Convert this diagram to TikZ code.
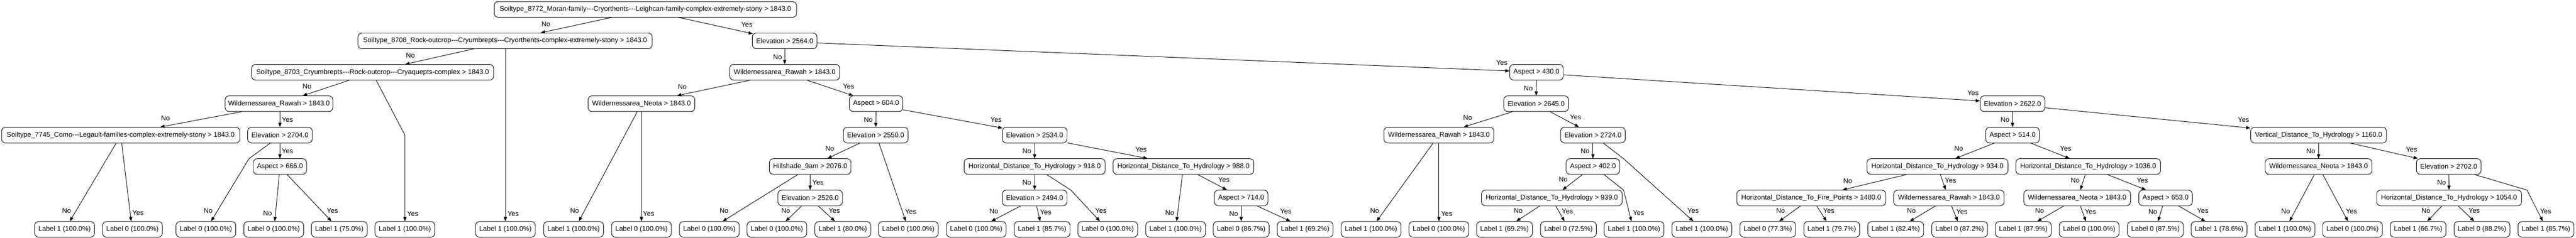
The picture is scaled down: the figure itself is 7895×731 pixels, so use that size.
\documentclass[tikz,border=0pt]{standalone}
\usepackage{fontspec}
\setmainfont{Liberation Sans}
\usetikzlibrary{arrows.meta,calc}
\begin{document}
\begin{tikzpicture}[x=0.01cm,y=-0.01cm,
  every node/.style={font=\fontsize{5.98pt}{7pt}\selectfont},
  box/.style={draw, rounded corners=0.12cm, minimum height=0.48cm, inner xsep=0.06cm, inner ysep=0pt, line width=0.43pt},
  lw/.style={box, minimum width=1.83cm},
  ln/.style={box, minimum width=1.71cm},
  conn/.style={-{Triangle[length=0.13cm,width=0.1cm]}, line width=0.43pt},
  lab/.style={inner sep=0pt}]
\useasboundingbox (0,0) rectangle (7895,731);
% row 0
\node[box,minimum width=9.26cm] (root) at (1978,29) {Soiltype\_8772\_Moran-family-{}-{}-Cryorthents-{}-{}-Leighcan-family-complex-extremely-stony > 1843.0};
% row 1
\node[box,minimum width=9.01cm] (n8708) at (1548,125.5) {Soiltype\_8708\_Rock-outcrop-{}-{}-Cryumbrepts-{}-{}-Cryorthents-complex-extremely-stony > 1843.0};
\node[box,minimum width=1.98cm] (e2564) at (2405,125.5) {Elevation > 2564.0};
% row 2
\node[box,minimum width=7.41cm] (n8703) at (1142,222) {Soiltype\_8703\_Cryumbrepts-{}-{}-Rock-outcrop-{}-{}-Cryaquepts-complex > 1843.0};
\node[box,minimum width=3.37cm] (wr2) at (2405,222) {Wildernessarea\_Rawah > 1843.0};
\node[box,minimum width=1.64cm] (a430) at (4709,222) {Aspect > 430.0};
% row 3
\node[box,minimum width=3.30cm] (wr1) at (855,318.5) {Wildernessarea\_Rawah > 1843.0};
\node[box,minimum width=3.27cm] (wn1) at (1966,318.5) {Wildernessarea\_Neota > 1843.0};
\node[box,minimum width=1.64cm] (a604) at (2685,318.5) {Aspect > 604.0};
\node[box,minimum width=1.98cm] (e2645) at (4708,318.5) {Elevation > 2645.0};
\node[box,minimum width=1.98cm] (e2622) at (6168,318.5) {Elevation > 2622.0};
% row 4
\node[box,minimum width=7.30cm] (n7745) at (370,415) {Soiltype\_7745\_Como-{}-{}-Legault-families-complex-extremely-stony > 1843.0};
\node[box,minimum width=1.98cm] (e2704) at (858,415) {Elevation > 2704.0};
\node[box,minimum width=1.98cm] (e2550) at (2684,415) {Elevation > 2550.0};
\node[box,minimum width=1.98cm] (e2534) at (3171,415) {Elevation > 2534.0};
\node[box,minimum width=3.37cm] (wr3) at (4410,415) {Wildernessarea\_Rawah > 1843.0};
\node[box,minimum width=1.98cm] (e2724) at (4882,415) {Elevation > 2724.0};
\node[box,minimum width=1.64cm] (a514) at (6168,415) {Aspect > 514.0};
\node[box,minimum width=4.16cm] (vdth) at (7106,415) {Vertical\_Distance\_To\_Hydrology > 1160.0};
% row 5
\node[box,minimum width=1.63cm] (a666) at (858,511.5) {Aspect > 666.0};
\node[box,minimum width=2.50cm] (hs) at (2483,511.5) {Hillshade\_9am > 2076.0};
\node[box,minimum width=4.32cm] (h918) at (3171,511.5) {Horizontal\_Distance\_To\_Hydrology > 918.0};
\node[box,minimum width=4.31cm] (h988) at (3627,511.5) {Horizontal\_Distance\_To\_Hydrology > 988.0};
\node[box,minimum width=1.64cm] (a402) at (4882,511.5) {Aspect > 402.0};
\node[box,minimum width=4.32cm] (h934) at (5938,511.5) {Horizontal\_Distance\_To\_Hydrology > 934.0};
\node[box,minimum width=4.43cm] (h1036) at (6400,511.5) {Horizontal\_Distance\_To\_Hydrology > 1036.0};
\node[box,minimum width=3.27cm] (wn3) at (7106,511.5) {Wildernessarea\_Neota > 1843.0};
\node[box,minimum width=1.98cm] (e2702) at (7505,511.5) {Elevation > 2702.0};
% row 6
\node[box,minimum width=1.98cm] (e2526) at (2483,608) {Elevation > 2526.0};
\node[box,minimum width=1.98cm] (e2494) at (3171,608) {Elevation > 2494.0};
\node[box,minimum width=1.64cm] (a714) at (3804,608) {Aspect > 714.0};
\node[box,minimum width=4.31cm] (h939) at (4756,608) {Horizontal\_Distance\_To\_Hydrology > 939.0};
\node[box,minimum width=4.56cm] (hfp) at (5551,608) {Horizontal\_Distance\_To\_Fire\_Points > 1480.0};
\node[box,minimum width=3.38cm] (wr4) at (5973,608) {Wildernessarea\_Rawah > 1843.0};
\node[box,minimum width=3.27cm] (wn2) at (6366,608) {Wildernessarea\_Neota > 1843.0};
\node[box,minimum width=1.64cm] (a653) at (6637,608) {Aspect > 653.0};
\node[box,minimum width=4.44cm] (h1054) at (7506,608) {Horizontal\_Distance\_To\_Hydrology > 1054.0};
% leaves
\node[lw] (L1) at (198,704.5) {Label 1 (100.0\%)};
\node[lw] (L2) at (406,704.5) {Label 0 (100.0\%)};
\node[lw] (L3) at (631,704.5) {Label 0 (100.0\%)};
\node[lw] (L4) at (839,704.5) {Label 0 (100.0\%)};
\node[ln] (L5) at (1040,704.5) {Label 1 (75.0\%)};
\node[lw] (L6) at (1241,704.5) {Label 1 (100.0\%)};
\node[lw] (L7) at (1549,704.5) {Label 1 (100.0\%)};
\node[lw] (L8) at (1758,704.5) {Label 1 (100.0\%)};
\node[lw] (L9) at (1966,704.5) {Label 0 (100.0\%)};
\node[lw] (L10) at (2174,704.5) {Label 0 (100.0\%)};
\node[lw] (L11) at (2381,704.5) {Label 0 (100.0\%)};
\node[ln] (L12) at (2583,704.5) {Label 1 (80.0\%)};
\node[lw] (L13) at (2784,704.5) {Label 0 (100.0\%)};
\node[lw] (L14) at (2992,704.5) {Label 0 (100.0\%)};
\node[ln] (L15) at (3194,704.5) {Label 1 (85.7\%)};
\node[lw] (L16) at (3395,704.5) {Label 0 (100.0\%)};
\node[lw] (L17) at (3603,704.5) {Label 1 (100.0\%)};
\node[ln] (L18) at (3804,704.5) {Label 0 (86.7\%)};
\node[ln] (L19) at (4000,704.5) {Label 1 (69.2\%)};
\node[lw] (L20) at (4202,704.5) {Label 1 (100.0\%)};
\node[lw] (L21) at (4410,704.5) {Label 0 (100.0\%)};
\node[ln] (L22) at (4611,704.5) {Label 1 (69.2\%)};
\node[ln] (L23) at (4807,704.5) {Label 0 (72.5\%)};
\node[lw] (L24) at (5008,704.5) {Label 1 (100.0\%)};
\node[lw] (L25) at (5216,704.5) {Label 1 (100.0\%)};
\node[ln] (L26) at (5418,704.5) {Label 0 (77.3\%)};
\node[ln] (L27) at (5614,704.5) {Label 1 (79.7\%)};
\node[ln] (L28) at (5810,704.5) {Label 1 (82.4\%)};
\node[ln] (L29) at (6006,704.5) {Label 0 (87.2\%)};
\node[ln] (L30) at (6201,704.5) {Label 1 (87.9\%)};
\node[lw] (L31) at (6403,704.5) {Label 0 (100.0\%)};
\node[ln] (L32) at (6606,704.5) {Label 0 (87.5\%)};
\node[ln] (L33) at (6801,704.5) {Label 1 (78.6\%)};
\node[lw] (L34) at (7003,704.5) {Label 1 (100.0\%)};
\node[lw] (L35) at (7210,704.5) {Label 0 (100.0\%)};
\node[ln] (L36) at (7411,704.5) {Label 1 (66.7\%)};
\node[ln] (L37) at (7607,704.5) {Label 0 (88.2\%)};
\node[ln] (L38) at (7803,704.5) {Label 1 (85.7\%)};
% connectors
\draw[conn] ($(root.south)+(-104,0)$) -- ($(n8708.north)+(109,0)$);
\draw[conn] ($(root.south)+(103,0)$) -- ($(e2564.north west)+(2,3)$);
\draw[conn] ($(n8708.south)+(-97,0)$) -- ($(n8703.north)+(100,0)$);
\draw[conn] ($(n8708.south)+(1,0)$) -- (L7.north);
\draw[conn] ($(n8703.south)+(-72,0)$) -- ($(wr1.north)+(73,0)$);
\draw[conn] ($(n8703.south)+(11,0)$) -- (1241,415) -- (L6.north);
\draw[conn] ($(wr1.south)+(-115,0)$) -- ($(n7745.north)+(121,0)$);
\draw[conn] (e2704.north |- wr1.south) -- (e2704.north);
\draw[conn] ($(n7745.south)+(-14,0)$) -- ($(L1.north)+(16,0)$);
\draw[conn] ($(n7745.south)+(3,0)$) -- ($(L2.north)+(-4,0)$);
\draw[conn] ($(e2704.south)+(-30,0)$) -- (763,487.5) -- ($(L3.north)+(16,0)$);
\draw[conn] (e2704.south) -- (a666.north);
\draw[conn] ($(a666.south)+(-2,0)$) -- ($(L4.north)+(3,0)$);
\draw[conn] ($(a666.south)+(22,0)$) -- ($(L5.north)+(-24,0)$);
\draw[conn] ($(wn1.south)+(-13,0)$) -- ($(L8.north)+(16,0)$);
\draw[conn] (wn1.south) -- (L9.north);
\draw[conn] (e2564.south) -- (wr2.north);
\draw[conn] ($(e2564.east)+(0,6.5)$) -- ($(a430.west)+(0,-4)$);
\draw[conn] ($(wr2.south)+(-107,0)$) -- ($(wn1.north)+(109,0)$);
\draw[conn] ($(wr2.south)+(69,0)$) -- ($(a604.north)+(-70,0)$);
\draw[conn] (a604.south) -- (e2550.north);
\draw[conn] ($(a604.south east)+(0,-6)$) -- ($(e2534.north west)+(1,3)$);
\draw[conn] ($(e2550.south)+(-49,0)$) -- ($(hs.north)+(53,0)$);
\draw[conn] ($(e2550.south)+(10,0)$) -- ($(L13.north)+(-8,0)$);
\draw[conn] ($(hs.south)+(-38,0)$) -- ($(L10.north)+(41,0)$);
\draw[conn] (hs.south) -- (e2526.north);
\draw[conn] ($(e2526.south)+(-26,0)$) -- ($(L11.north)+(27,0)$);
\draw[conn] ($(e2526.south)+(25,0)$) -- ($(L12.north)+(-24,0)$);
\draw[conn] (e2534.south) -- (h918.north);
\draw[conn] ($(e2534.south east)+(0,-1)$) -- ($(h988.north)+(-110,0)$);
\draw[conn] (h918.south) -- (e2494.north);
\draw[conn] ($(h918.south)+(37,0)$) -- (3282,584) -- ($(L16.north)+(-24,0)$);
\draw[conn] ($(e2494.south)+(-43,0)$) -- ($(L14.north)+(46,0)$);
\draw[conn] ($(e2494.south)+(6,0)$) -- ($(L15.north)+(-6,0)$);
\draw[conn] ($(h988.south)+(-3,0)$) -- ($(L17.north)+(3,0)$);
\draw[conn] ($(h988.south)+(44,0)$) -- ($(a714.north)+(-44,0)$);
\draw[conn] (a714.south) -- (L18.north);
\draw[conn] ($(a714.south)+(49,0)$) -- ($(L19.north)+(-45,0)$);
\draw[conn] (a430.south) -- (e2645.north);
\draw[conn] ($(a430.east)+(0,8)$) -- ($(e2622.west)+(0,-8.5)$);
\draw[conn] ($(e2645.south)+(-73,0)$) -- ($(wr3.north)+(76,0)$);
\draw[conn] ($(e2645.south)+(43,0)$) -- ($(e2724.north)+(-43,0)$);
\draw[conn] ($(wr3.south)+(-18,0)$) -- ($(L20.north)+(17,0)$);
\draw[conn] (wr3.south) -- (L21.north);
\draw[conn] (e2724.south) -- (a402.north);
\draw[conn] ($(e2724.south)+(32,0)$) -- (4976,487.5) -- ($(L25.north)+(-26,0)$);
\draw[conn] ($(a402.south)+(-32,0)$) -- ($(h939.north)+(33,0)$);
\draw[conn] ($(a402.south)+(34,0)$) -- (4976,584) -- ($(L24.north)+(-8,0)$);
\draw[conn] ($(h939.south)+(-37,0)$) -- ($(L22.north)+(36,0)$);
\draw[conn] ($(h939.south)+(12,0)$) -- ($(L23.north)+(-12,0)$);
\draw[conn] (e2622.south) -- (a514.north);
\draw[conn] ($(e2622.east)+(0,12.5)$) -- ($(vdth.north west)+(0,3)$);
\draw[conn] ($(a514.south)+(-56,0)$) -- ($(h934.north)+(55,0)$);
\draw[conn] ($(a514.south)+(56,0)$) -- ($(h1036.north)+(-57,0)$);
\draw[conn] ($(h934.south)+(-95,0)$) -- ($(hfp.north)+(96,0)$);
\draw[conn] ($(h934.south)+(9,0)$) -- ($(wr4.north)+(-10,0)$);
\draw[conn] ($(hfp.south)+(-33,0)$) -- ($(L26.north)+(35,0)$);
\draw[conn] ($(hfp.south)+(17,0)$) -- ($(L27.north)+(-16,0)$);
\draw[conn] ($(wr4.south)+(-41,0)$) -- ($(L28.north)+(43,0)$);
\draw[conn] ($(wr4.south)+(8,0)$) -- ($(L29.north)+(-6,0)$);
\draw[conn] ($(h1036.south)+(-9,0)$) -- ($(wn2.north)+(10,0)$);
\draw[conn] ($(h1036.south)+(59,0)$) -- ($(a653.north)+(-60,0)$);
\draw[conn] ($(wn2.south)+(-41,0)$) -- ($(L30.north)+(43,0)$);
\draw[conn] ($(wn2.south)+(10,0)$) -- ($(L31.north)+(-10,0)$);
\draw[conn] ($(a653.south)+(-9,0)$) -- ($(L32.north)+(8,0)$);
\draw[conn] ($(a653.south)+(40,0)$) -- ($(L33.north)+(-42,0)$);
\draw[conn] (vdth.south) -- (wn3.north);
\draw[conn] ($(vdth.south)+(98,0)$) -- ($(e2702.north)+(-95,0)$);
\draw[conn] ($(wn3.south)+(-13,0)$) -- ($(L34.north)+(14,0)$);
\draw[conn] ($(wn3.south)+(13,0)$) -- ($(L35.north)+(-14,0)$);
\draw[conn] (e2702.south) -- (h1054.north);
\draw[conn] ($(e2702.south)+(79,0)$) -- (7745,584) -- ($(L38.north)+(-10,0)$);
\draw[conn] ($(h1054.south)+(-22,0)$) -- ($(L36.north)+(28,0)$);
\draw[conn] ($(h1054.south)+(28,0)$) -- ($(L37.north)+(-24,0)$);
% edge labels
\node[lab] (t1) at (941,265) {No};
\node[lab] (t2) at (507,363) {No};
\node[lab] (t3) at (881,368) {Yes};
\node[lab] (t4) at (204,648) {No};
\node[lab] (t5) at (423,654) {Yes};
\node[lab] (t6) at (638,648) {No};
\node[lab] (t7) at (881,464) {Yes};
\node[lab] (t8) at (820,655) {No};
\node[lab] (t9) at (1019,647) {Yes};
\node[lab] (t10) at (1673,74) {No};
\node[lab] (t11) at (1258,170) {No};
\node[lab] (t12) at (1265,657) {Yes};
\node[lab] (t13) at (1573,657) {Yes};
\node[lab] (t14) at (1761,648) {No};
\node[lab] (t15) at (1988,657) {Yes};
\node[lab] (t16) at (2289,75) {Yes};
\node[lab] (t17) at (2383,175) {No};
\node[lab] (t18) at (2091,267) {No};
\node[lab] (t19) at (2601,265) {Yes};
\node[lab] (t20) at (2661,368) {No};
\node[lab] (t21) at (3053,368) {Yes};
\node[lab] (t22) at (2543,456) {No};
\node[lab] (t23) at (2791,650) {Yes};
\node[lab] (t24) at (2219,648) {No};
\node[lab] (t25) at (2507,561) {Yes};
\node[lab] (t26) at (2408,647) {No};
\node[lab] (t27) at (2557,647) {Yes};
\node[lab] (t28) at (3147,464) {No};
\node[lab] (t29) at (3497,460) {Yes};
\node[lab] (t30) at (3147,561) {No};
\node[lab] (t31) at (3374,647) {Yes};
\node[lab] (t32) at (3046,649) {No};
\node[lab] (t33) at (3205,652) {Yes};
\node[lab] (t34) at (3585,654) {No};
\node[lab] (t35) at (3751,553) {Yes};
\node[lab] (t36) at (3781,657) {No};
\node[lab] (t37) at (3941,649) {Yes};
\node[lab] (t38) at (4603,193) {Yes};
\node[lab] (t39) at (4684,271) {No};
\node[lab] (t40) at (4498,361) {No};
\node[lab] (t41) at (4829,360) {Yes};
\node[lab] (t42) at (4213,648) {No};
\node[lab] (t43) at (4434,657) {Yes};
\node[lab] (t44) at (4858,464) {No};
\node[lab] (t45) at (4791,551) {No};
\node[lab] (t46) at (4653,648) {No};
\node[lab] (t47) at (4804,649) {Yes};
\node[lab] (t48) at (5022,653) {Yes};
\node[lab] (t49) at (5189,647) {Yes};
\node[lab] (t50) at (6003,457) {No};
\node[lab] (t51) at (5663,556) {No};
\node[lab] (t52) at (5978,554) {Yes};
\node[lab] (t53) at (5457,648) {No};
\node[lab] (t54) at (5605,648) {Yes};
\node[lab] (t55) at (5858,648) {No};
\node[lab] (t56) at (6013,651) {Yes};
\node[lab] (t57) at (6047,285) {Yes};
\node[lab] (t58) at (6145,368) {No};
\node[lab] (t59) at (6876,368) {Yes};
\node[lab] (t60) at (6331,457) {Yes};
\node[lab] (t61) at (6360,554) {No};
\node[lab] (t62) at (6566,554) {Yes};
\node[lab] (t63) at (6251,648) {No};
\node[lab] (t64) at (6407,650) {Yes};
\node[lab] (t65) at (6598,651) {No};
\node[lab] (t66) at (6751,648) {Yes};
\node[lab] (t67) at (7082,464) {No};
\node[lab] (t68) at (7391,459) {Yes};
\node[lab] (t69) at (7005,649) {No};
\node[lab] (t70) at (7207,649) {Yes};
\node[lab] (t71) at (7483,561) {No};
\node[lab] (t72) at (7802,649) {Yes};
\node[lab] (t73) at (7435,647) {No};
\node[lab] (t74) at (7583,647) {Yes};
\end{tikzpicture}
\end{document}
